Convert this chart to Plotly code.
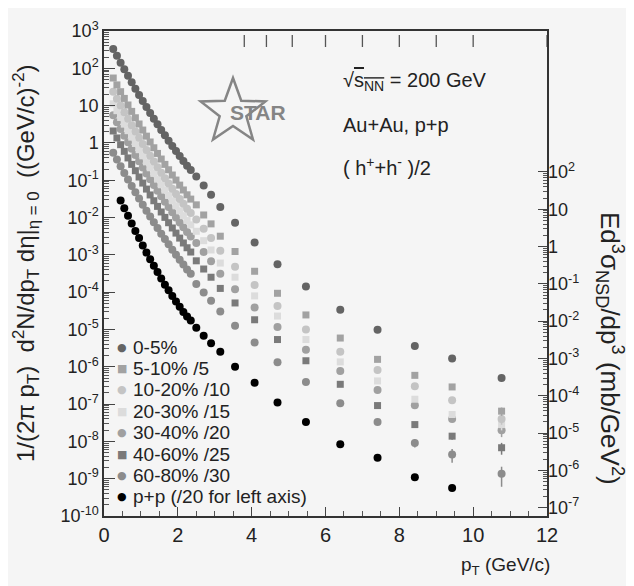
import math
import plotly.graph_objects as go

# ---------------- data ----------------
# transverse momentum bins (GeV/c)
pt_auau = [0.25, 0.35, 0.45, 0.55, 0.65, 0.75, 0.85, 0.95, 1.05, 1.15, 1.25,
           1.35, 1.45, 1.55, 1.65, 1.75, 1.85, 1.95, 2.05, 2.15, 2.25, 2.35,
           2.5, 2.7, 2.9, 3.15, 3.55,
           4.08, 4.7, 5.47, 6.4, 7.41, 8.42, 9.43, 10.77]
pt_pp = [0.45, 0.55, 0.65, 0.75, 0.85, 0.95, 1.05, 1.15, 1.25,
         1.35, 1.45, 1.55, 1.65, 1.75, 1.85, 1.95, 2.05, 2.15, 2.25, 2.35,
         2.5, 2.7, 2.9, 3.15, 3.55,
         4.08, 4.7, 5.47, 6.4, 7.41, 8.42, 9.43]
# high-pT bin edges marked along the top of the frame
bin_edges = [3.8, 4.4, 5.1, 6, 7, 8, 9, 10, 12]

y_0_5 = [331, 216, 142, 94.2, 62.8, 42.2, 28.5, 19.4, 13.3, 9.18, 6.38, 4.47,
         3.15, 2.23, 1.60, 1.15, 0.832, 0.607, 0.446, 0.330, 0.245, 0.188,
         0.126, 0.0724, 0.0407, 0.0191, 0.00724,
         2.14e-3, 5.62e-4, 1.41e-4, 3.39e-5, 9.77e-6, 3.63e-6, 1.66e-6, 5.0e-7]
y_5_10 = [54.9, 35.9, 23.6, 15.6, 10.4, 7.0, 4.73, 3.22, 2.21, 1.52, 1.06, 0.742,
          0.523, 0.370, 0.266, 0.191, 0.138, 0.101, 0.0740, 0.0548, 0.0407, 0.0312,
          0.0219, 0.0117, 0.00676, 0.00316, 0.00123,
          3.63e-4, 9.33e-5, 2.45e-5, 5.89e-6, 1.58e-6, 5.89e-7, 2.88e-7, 6.46e-8]
y_10_20 = [23.4, 15.3, 10.1, 6.67, 4.45, 2.99, 2.02, 1.37, 0.942, 0.650, 0.452, 0.316,
           0.223, 0.158, 0.113, 0.0814, 0.0589, 0.0430, 0.0316, 0.0234, 0.0173, 0.0133,
           8.91e-3, 5.01e-3, 2.82e-3, 1.29e-3, 4.79e-4,
           1.55e-4, 4.27e-5, 1.0e-5, 2.51e-6, 8.13e-7, 3.02e-7, 1.26e-7, 3.98e-8]
y_20_30 = [11.2, 7.32, 4.81, 3.19, 2.13, 1.43, 0.966, 0.658, 0.451, 0.311, 0.216, 0.152,
           0.107, 0.0756, 0.0542, 0.0390, 0.0282, 0.0206, 0.0151, 0.0112, 0.00831, 0.00637,
           4.27e-3, 2.40e-3, 1.35e-3, 6.03e-4, 2.51e-4,
           7.94e-5, 2.29e-5, 5.37e-6, 1.35e-6, 4.17e-7, 1.35e-7, 5.25e-8, 2.82e-8]
y_30_40 = [5.49, 3.59, 2.36, 1.56, 1.04, 0.700, 0.473, 0.322, 0.221, 0.152, 0.106, 0.0742,
           0.0523, 0.0370, 0.0266, 0.0191, 0.0138, 0.0101, 0.00740, 0.00548, 0.00407, 0.00312,
           2.09e-3, 1.20e-3, 6.76e-4, 3.09e-4, 1.20e-4,
           3.89e-5, 1.17e-5, 2.88e-6, 7.76e-7, 2.40e-7, 9.33e-8, 3.98e-8, 2.0e-8]
y_40_60 = [2.09, 1.36, 0.896, 0.594, 0.396, 0.266, 0.180, 0.122, 0.0839, 0.0579, 0.0403, 0.0282,
           0.0199, 0.0141, 0.0101, 0.00726, 0.00525, 0.00383, 0.00281, 0.00208, 0.00155, 0.00119,
           6.92e-4, 4.17e-4, 2.51e-4, 1.26e-4, 5.13e-5,
           1.82e-5, 5.37e-6, 1.45e-6, 3.39e-7, 9.12e-8, 2.82e-8, 1.38e-8, 6.76e-9]
y_60_80 = [0.549, 0.359, 0.236, 0.156, 0.104, 0.0700, 0.0473, 0.0322, 0.0221, 0.0152, 0.0106, 0.00742,
           0.00523, 0.00370, 0.00266, 0.00191, 0.00138, 0.00101, 7.40e-4, 5.48e-4, 4.07e-4, 3.12e-4,
           1.66e-4, 9.77e-5, 5.89e-5, 3.02e-5, 1.26e-5,
           4.47e-6, 1.32e-6, 3.89e-7, 1.05e-7, 3.31e-8, 9.12e-9, 4.47e-9, 1.35e-9]
# p+p, in left-axis units (already divided by 20)
y_pp = [0.0288, 0.0178, 0.0112, 6.92e-3, 4.37e-3, 2.82e-3, 1.78e-3, 1.15e-3, 7.59e-4,
        5.13e-4, 3.47e-4, 2.34e-4, 1.58e-4, 1.12e-4, 7.94e-5, 5.62e-5, 4.07e-5, 2.95e-5, 2.24e-5, 1.74e-5,
        1.12e-5, 6.76e-6, 4.27e-6, 2.51e-6, 1.0e-6,
        3.72e-7, 1.10e-7, 3.31e-8, 8.32e-9, 3.63e-9, 1.10e-9, 5.62e-10]

# relative uncertainties of the eight highest-pT Au+Au points
err_0_5 = [0, 0, 0, 0, 0, 0, 0.05, 0.1]
err_5_10 = [0, 0, 0, 0, 0, 0.05, 0.1, 0.25]
err_10_20 = [0, 0, 0, 0, 0, 0.05, 0.1, 0.3]
err_20_30 = [0, 0, 0, 0, 0, 0.05, 0.15, 0.3]
err_30_40 = [0, 0, 0, 0, 0, 0.1, 0.15, 0.35]
err_40_60 = [0, 0, 0, 0, 0, 0.1, 0.2, 0.35]
err_60_80 = [0, 0, 0, 0, 0.1, 0.25, 0.4, 0.55]

labels = ["0-5%", "5-10% /5", "10-20% /10", "20-30% /15", "30-40% /20",
          "40-60% /25", "60-80% /30", "p+p (/20 for left axis)"]

SIGMA_NSD_MB = 30.0   # mb, p+p non-single-diffractive cross section
PP_LEFT_SCALE = 20.0  # p+p divided by 20 for left axis
scale = SIGMA_NSD_MB * PP_LEFT_SCALE

# ---------------- styling ----------------
colors = ["#646464", "#a2a2a2", "#c4c4c4", "#dcdcdc", "#a0a0a0", "#7a7a7a", "#8c8c8c", "#000000"]
symbols = ["circle", "square", "circle", "square", "circle", "square", "circle", "circle"]
sizes = [8, 7, 8, 7, 8, 7, 8, 8]

# the page adds an 8px body margin; figure is sized to fit the window
PAGE_OFF = 8
W, H = 634 - PAGE_OFF, 586 - PAGE_OFF
# plot area in page pixels
X0, X1, Y0, Y1 = 104, 547, 31, 516
L, R = X0 - PAGE_OFF, W - (X1 - PAGE_OFF)
T, B = Y0 - PAGE_OFF, H - (Y1 - PAGE_OFF)
PW, PH = X1 - X0, Y1 - Y0


def px(x):
    return (x - X0) / PW


def py(y):
    return (Y1 - y) / PH


fig = go.Figure()

series = [
    (pt_auau, y_0_5, err_0_5),
    (pt_auau, y_5_10, err_5_10),
    (pt_auau, y_10_20, err_10_20),
    (pt_auau, y_20_30, err_20_30),
    (pt_auau, y_30_40, err_30_40),
    (pt_auau, y_40_60, err_40_60),
    (pt_auau, y_60_80, err_60_80),
]

for i in [6, 5, 4, 3, 2, 1, 0]:
    xs, ys, err = series[i]
    full = [0.0] * (len(ys) - len(err)) + err
    e = [v * r for v, r in zip(ys, full)]
    fig.add_trace(go.Scatter(
        x=xs, y=ys, mode="markers", name=labels[i], showlegend=False,
        marker=dict(symbol=symbols[i], size=sizes[i], color=colors[i], line=dict(width=0)),
        error_y=dict(type="data", array=e, arrayminus=e, visible=True,
                     color=colors[i], thickness=1.5, width=0)))

# p+p drawn against the right-hand (mb) axis
fig.add_trace(go.Scatter(
    x=pt_pp, y=[v * scale for v in y_pp], mode="markers", name=labels[7], showlegend=False,
    yaxis="y2",
    marker=dict(symbol=symbols[7], size=sizes[7], color=colors[7], line=dict(width=0))))

# ---------------- axes ----------------
left_exps = list(range(-10, 4))


def dec_label(n):
    if n == 0:
        return "1"
    if n == 1:
        return "10"
    return "10<sup>%d</sup>" % n


left_minor = [k * 10.0 ** n for n in range(-10, 3) for k in range(2, 10)]
right_exps = list(range(-7, 3))
right_minor = [k * 10.0 ** n for n in range(-7, 2) for k in range(2, 10)]

axis_font = dict(family="Liberation Sans, Arial, sans-serif", size=18, color="#222")

fig.update_layout(
    width=W, height=H,
    margin=dict(l=L, r=R, t=T, b=B, pad=0),
    paper_bgcolor="#f5f5f5", plot_bgcolor="#f5f5f5",
    font=dict(family="Liberation Sans, Arial, sans-serif", color="#222"),
    showlegend=False,
    xaxis=dict(range=[0, 12], tick0=0, dtick=2, ticks="inside", ticklen=9, tickwidth=1.2,
               tickcolor="#444", showline=True, linecolor="#333", linewidth=1.5, mirror=True,
               showgrid=False, zeroline=False, tickfont=dict(size=20, color="#222"),
               minor=dict(dtick=0.5, ticks="inside", ticklen=5, tickcolor="#555", showgrid=False)),
    yaxis=dict(type="log", range=[-10, 3], tickmode="array",
               tickvals=[10.0 ** n for n in left_exps], ticktext=[dec_label(n) for n in left_exps],
               ticks="inside", ticklen=11, tickwidth=1.2, tickcolor="#444",
               showline=True, linecolor="#333", linewidth=1.5, mirror=True,
               showgrid=False, zeroline=False, tickfont=axis_font,
               minor=dict(tickmode="array", tickvals=left_minor, ticks="inside", ticklen=5,
                          tickcolor="#555", showgrid=False)),
    yaxis2=dict(type="log", overlaying="y", side="right", anchor="x",
                range=[-10 + math.log10(scale), 3 + math.log10(scale)], tickmode="array",
                tickvals=[10.0 ** n for n in right_exps], ticktext=[dec_label(n) for n in right_exps],
                ticks="inside", ticklen=9, tickwidth=1.2, tickcolor="#444",
                showline=False, showgrid=False, zeroline=False, tickfont=axis_font,
                minor=dict(tickmode="array", tickvals=right_minor, ticks="inside", ticklen=4,
                           tickcolor="#555", showgrid=False)),
)

# bin-edge marks hanging just below the top frame
for edge in bin_edges:
    fig.add_shape(type="line", xref="x", yref="paper", x0=edge, x1=edge,
                  y0=py(35), y1=py(47), line=dict(color="#555", width=1.3))

ann = []
# axis titles
ann.append(dict(text="1/(2π p<sub>T</sub>)&nbsp; d<sup>2</sup>N/dp<sub>T</sub> dη|<sub>η = 0</sub>&nbsp; ((GeV/c)<sup>-2</sup>)",
                x=px(26), y=py(263), xref="paper", yref="paper", textangle=-90,
                showarrow=False, font=dict(size=24, color="#222"), xanchor="center", yanchor="middle"))
ann.append(dict(text="Ed<sup>3</sup>σ<sub>NSD</sub>/dp<sup>3</sup> (mb/GeV<sup>2</sup>)",
                x=px(610), y=py(348), xref="paper", yref="paper", textangle=90,
                showarrow=False, font=dict(size=26, color="#222"), xanchor="center", yanchor="middle"))
ann.append(dict(text="p<sub>T</sub> (GeV/c)", x=px(552), y=py(566), xref="paper", yref="paper",
                showarrow=False, font=dict(size=19, color="#222"), xanchor="right", yanchor="middle"))
# physics labels
ann.append(dict(text='√<span style="text-decoration:overline">s<sub>NN</sub></span> = 200 GeV',
                x=px(341), y=py(82), xref="paper", yref="paper", showarrow=False,
                font=dict(size=20, color="#222"), xanchor="left", yanchor="middle"))
ann.append(dict(text="Au+Au, p+p", x=px(341), y=py(125), xref="paper", yref="paper", showarrow=False,
                font=dict(size=20, color="#222"), xanchor="left", yanchor="middle"))
ann.append(dict(text="( h<sup>+</sup>+h<sup>-</sup> )/2", x=px(341), y=py(166), xref="paper", yref="paper",
                showarrow=False, font=dict(size=20, color="#222"), xanchor="left", yanchor="middle"))
# STAR logo text
ann.append(dict(text="<b>STAR</b>", x=px(258), y=py(113), xref="paper", yref="paper", showarrow=False,
                font=dict(size=21, color="#858585"), xanchor="center", yanchor="middle"))

# legend (built from labels / colours / symbols)
for i, lab in enumerate(labels):
    yy = 347 + i * 21.4
    glyph = "■" if symbols[i] == "square" else "●"
    ann.append(dict(text=glyph, x=px(122), y=py(yy), xref="paper", yref="paper", showarrow=False,
                    font=dict(size=11, color=colors[i], family="DejaVu Sans"),
                    xanchor="center", yanchor="middle"))
    ann.append(dict(text=lab, x=px(131), y=py(yy), xref="paper", yref="paper", showarrow=False,
                    font=dict(size=19, color="#222"), xanchor="left", yanchor="middle"))

fig.update_layout(annotations=ann)

# STAR logo star outline
cx, cy, Ro, Ri = 233, 112, 34, 14
pts = []
for k in range(10):
    a = math.radians(-90 + 36 * k)
    rr = Ro if k % 2 == 0 else Ri
    pts.append((px(cx + rr * math.cos(a)), py(cy + rr * math.sin(a))))
path = "M " + " L ".join("%.4f,%.4f" % p for p in pts) + " Z"
fig.add_shape(type="path", path=path, xref="paper", yref="paper",
              line=dict(color="#858585", width=2.5), fillcolor="rgba(0,0,0,0)", layer="below")

fig.write_html("out.html")
